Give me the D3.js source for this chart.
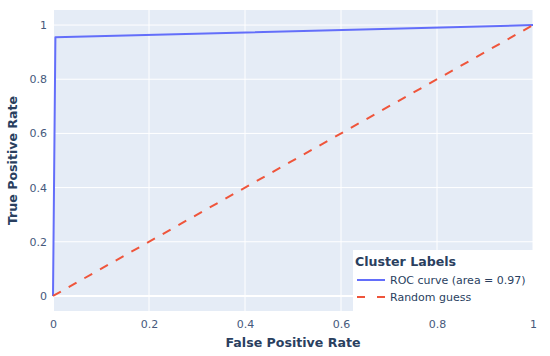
<!DOCTYPE html>
<html>
<head>
<meta charset="utf-8">
<script src="https://cdn.jsdelivr.net/npm/d3@7"></script>
<style>
  body { margin: 0; background: #fff; }
  text { font-family: "DejaVu Sans", Verdana, sans-serif; fill: #2a3f5f; }
</style>
</head>
<body>
<div id="chart"></div>
<script>
const rocFpr = [0, 0.005, 1];
const rocTpr = [0, 0.955, 1];
const guessFpr = [0, 1];
const guessTpr = [0, 1];
const xTicks = [0, 0.2, 0.4, 0.6, 0.8, 1];
const yTicks = [0, 0.2, 0.4, 0.6, 0.8, 1];
const legendTitle = "Cluster Labels";
const seriesNames = ["ROC curve (area = 0.97)", "Random guess"];

const W = 550, H = 356;
const margin = { top: 10, right: 17, bottom: 45, left: 53 };
const width = W - margin.left - margin.right;
const height = H - margin.top - margin.bottom;

const svg = d3.select("#chart").append("svg")
    .attr("width", W).attr("height", H);

const g = svg.append("g")
    .attr("transform", `translate(${margin.left},${margin.top})`);

const x = d3.scaleLinear().domain([0, 1]).range([0, width]);
const y = d3.scaleLinear().domain([-0.0556, 1.0556]).range([height, 0]);

g.append("rect").attr("width", width).attr("height", height).attr("fill", "#E5ECF6");

// grid
g.selectAll(".gx").data(xTicks.filter(d => d > 0)).enter().append("line")
    .attr("x1", d => x(d)).attr("x2", d => x(d))
    .attr("y1", 0).attr("y2", height)
    .attr("stroke", "#fff").attr("stroke-width", 1);
g.selectAll(".gy").data(yTicks.filter(d => d > 0)).enter().append("line")
    .attr("y1", d => y(d)).attr("y2", d => y(d))
    .attr("x1", 0).attr("x2", width)
    .attr("stroke", "#fff").attr("stroke-width", 1);
// zero lines
g.append("line").attr("x1", 0).attr("x2", width).attr("y1", y(0)).attr("y2", y(0))
    .attr("stroke", "#fff").attr("stroke-width", 2);
g.append("line").attr("x1", x(0)).attr("x2", x(0)).attr("y1", 0).attr("y2", height)
    .attr("stroke", "#fff").attr("stroke-width", 2);

// axes
const xAxis = g.append("g")
    .attr("transform", `translate(0,${height})`)
    .call(d3.axisBottom(x).tickValues(xTicks).tickSize(0).tickPadding(9).tickFormat(d3.format("")));
const yAxis = g.append("g")
    .call(d3.axisLeft(y).tickValues(yTicks).tickSize(0).tickPadding(6).tickFormat(d3.format("")));
[xAxis, yAxis].forEach(a => {
    a.select(".domain").remove();
    a.selectAll("text").attr("font-size", 11).attr("font-family", null).style("fill", "#46597c");
});

const line = d3.line().x(d => x(d[0])).y(d => y(d[1]));

g.append("path")
    .datum(rocFpr.map((v, i) => [v, rocTpr[i]]))
    .attr("d", line).attr("fill", "none")
    .attr("stroke", "#636efa").attr("stroke-width", 2)
    .attr("stroke-linejoin", "round");

g.append("path")
    .datum(guessFpr.map((v, i) => [v, guessTpr[i]]))
    .attr("d", line).attr("fill", "none")
    .attr("stroke", "#EF553B").attr("stroke-width", 2)
    .attr("stroke-dasharray", "9,9");

// axis titles
svg.append("text")
    .attr("x", margin.left + width / 2).attr("y", 347)
    .attr("text-anchor", "middle")
    .attr("font-size", 12.6).attr("font-weight", "bold")
    .text("False Positive Rate");
svg.append("text")
    .attr("transform", `translate(17,${margin.top + height / 2}) rotate(-90)`)
    .attr("text-anchor", "middle")
    .attr("font-size", 12.6).attr("font-weight", "bold")
    .text("True Positive Rate");

// legend
const legend = svg.append("g").attr("transform", "translate(353,250)");
legend.append("rect").attr("width", W - 353).attr("height", 61).attr("fill", "#fff");
legend.append("text").attr("x", 2).attr("y", 16)
    .attr("font-size", 12.6).attr("font-weight", "bold").text(legendTitle);
const colors = ["#636efa", "#EF553B"];
const dashes = [null, "8,12"];
seriesNames.forEach((name, i) => {
    const yy = 30 + i * 17;
    legend.append("line")
        .attr("x1", 4).attr("x2", 32).attr("y1", yy).attr("y2", yy)
        .attr("stroke", colors[i]).attr("stroke-width", 2)
        .attr("stroke-dasharray", dashes[i]);
    legend.append("text").attr("x", 37).attr("y", yy + 4)
        .attr("font-size", 11).text(name);
});
</script>
</body>
</html>
